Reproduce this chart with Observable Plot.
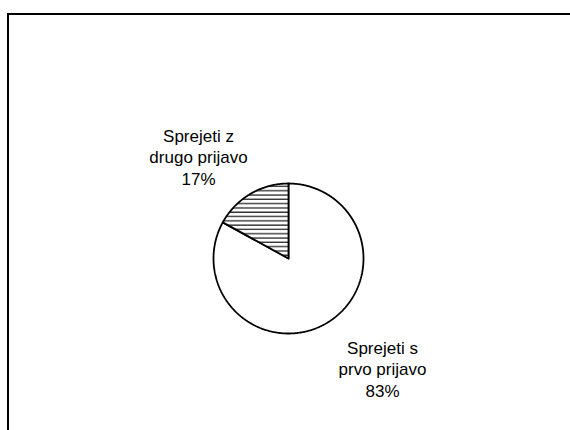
<!DOCTYPE html>
<html>
<head>
<meta charset="utf-8">
<script src="https://cdn.jsdelivr.net/npm/d3@7"></script>
<script src="https://cdn.jsdelivr.net/npm/@observablehq/plot@0.6"></script>
<style>
  html, body { margin: 0; padding: 0; background: #fff; }
  #wrap { position: relative; width: 570px; height: 430px; overflow: hidden; }
  #frame { position: absolute; left: 7px; top: 13px; width: 600px; height: 500px;
           border-top: 2px solid #000; border-left: 2px solid #000; box-sizing: border-box; }
  #chart { position: absolute; left: 0; top: 0; }
</style>
</head>
<body>
<div id="wrap"><div id="frame"></div><div id="chart"></div></div>
<script>
// ---- data ----
const categories = ["Sprejeti s prvo prijavo", "Sprejeti z drugo prijavo"];
const values = [83, 17];
const labelLines = [["Sprejeti s", "prvo prijavo"], ["Sprejeti z", "drugo prijavo"]];
const fills = ["#ffffff", "url(#hatch)"];

// ---- layout ----
const W = 570, H = 430;
const cx = 288, cy = 258, R = 75;
const labelPos = [[382, 338], [198, 126]]; // top-line anchor of each label

const arcs = d3.pie().sort(null).value(d => d.value)(
  categories.map((c, i) => ({category: c, value: values[i], i}))
);

// polygon points for each slice
const pts = [];
arcs.forEach(a => {
  const n = Math.max(2, Math.ceil((a.endAngle - a.startAngle) / 0.01));
  pts.push({i: a.data.i, x: cx, y: cy});
  for (let k = 0; k <= n; k++) {
    const t = a.startAngle + (a.endAngle - a.startAngle) * k / n;
    pts.push({i: a.data.i, x: cx + R * Math.sin(t), y: cy - R * Math.cos(t)});
  }
  pts.push({i: a.data.i, x: cx, y: cy});
});

const total = d3.sum(values);
const labels = arcs.map(a => ({
  text: [...labelLines[a.data.i], Math.round(a.data.value / total * 100) + "%"].join("\n"),
  x: labelPos[a.data.i][0],
  y: labelPos[a.data.i][1]
}));

const plot = Plot.plot({
  width: W, height: H,
  margin: 0,
  x: {domain: [0, W], range: [0, W], axis: null},
  y: {domain: [0, H], range: [0, H], axis: null},
  style: {background: "transparent", fontFamily: "'Liberation Sans', Arial, sans-serif"},
  marks: [
    Plot.line(pts, {x: "x", y: "y", z: "i", fill: d => fills[d.i], stroke: "#000", strokeWidth: 1.8, curve: "linear", strokeLinejoin: "miter"}),
    Plot.text(labels, {x: "x", y: "y", text: "text", fontSize: 17, lineHeight: 1.26, lineAnchor: "top", textAnchor: "middle", fill: "#000"})
  ]
});

// hatch pattern
const svg = d3.select(plot);
const defs = svg.insert("defs", ":first-child");
const pat = defs.append("pattern").attr("id", "hatch").attr("patternUnits", "userSpaceOnUse")
  .attr("width", 8).attr("height", 4.3);
pat.append("rect").attr("width", 8).attr("height", 4.3).attr("fill", "#fff");
pat.append("line").attr("x1", 0).attr("x2", 8).attr("y1", 1).attr("y2", 1)
  .attr("stroke", "#000").attr("stroke-width", 1.1);

document.getElementById("chart").appendChild(plot);
</script>
</body>
</html>
